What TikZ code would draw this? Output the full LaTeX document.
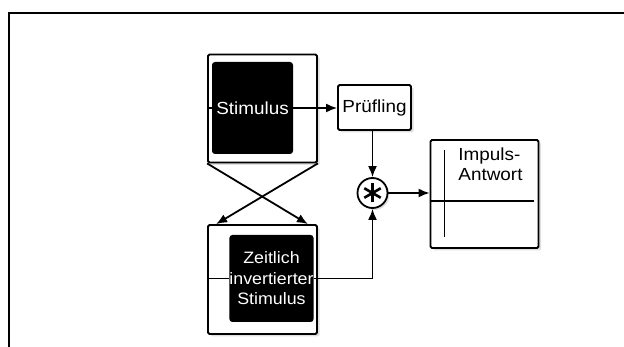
\documentclass[tikz,border=0pt]{standalone}
\usepackage{fontspec}
\setmainfont{Liberation Sans}[FakeStretch=1.08]
\usetikzlibrary{calc}
\usetikzlibrary{positioning}
\usetikzlibrary{arrows.meta}
\usetikzlibrary{shadows}
\tikzstyle{boxnode} = [draw, line width=1.8pt, rounded corners=1.5pt, fill=white, drop shadow={shadow xshift=2.5pt, shadow yshift=-2.5pt, opacity=0.25}]
\tikzstyle{signode} = [fill=black, rounded corners=3pt, text=white, align=center, inner sep=0pt]
\tikzstyle{convnode} = [draw, circle, line width=1.8pt, minimum size=30pt, inner sep=0pt, fill=white, drop shadow={shadow xshift=2pt, shadow yshift=-2pt, opacity=0.25}]
\tikzstyle{conn} = [line width=1.8pt, -{Latex[length=11pt,width=9pt]}]
\tikzstyle{wave} = [line width=1.8pt]

\begin{document}
\begin{tikzpicture}[x=1pt, y=-1pt, font=\fontsize{17.5}{19.5}\selectfont]
\useasboundingbox (0,0) rectangle (624,347);
\draw[line width=2pt] (9,347) -- (9,13) -- (624,13);

\node[boxnode, minimum width=109pt, minimum height=108pt] (stim_box) at (262.5,108.5) {};
\node[signode, minimum width=81pt, minimum height=92pt] (stim_sig) at ($(stim_box)+(-10,-0.5)$) {Stimulus};
\node[boxnode, minimum width=73pt, minimum height=45pt] (dut) at ($(stim_box)+(112,-1)$) {Prüfling};
\node[convnode] (conv) at ($(dut)+(-2,85.5)$) {};
\foreach \a in {90,30,150}
    \draw[line width=2.6pt] ($(conv)+(\a:9.5)$) -- ($(conv)+(\a+180:9.5)$);
\node[boxnode, minimum width=108pt, minimum height=108pt] (resp) at ($(conv)+(112,1)$) {};
\node[align=left] (resp_lbl) at ($(resp)+(6,-30)$) {Impuls-\\Antwort};
\draw[wave] ($(resp)+(-40,-44)$) -- ($(resp)+(-40,43)$);
\draw[wave] (resp.west |- {$(resp)+(0,7)$}) -- ($(resp)+(49,7)$);

\node[boxnode, minimum width=109pt, minimum height=109pt] (inv_box) at ($(stim_box)+(0,171)$) {};
\node[signode, minimum width=77pt, minimum height=87pt, font=\fontsize{16.5}{20.5}\selectfont] (inv_sig) at ($(inv_box)+(9,-1)$) {Zeitlich\\invertierter\\Stimulus};

\coordinate (inv_l) at ($(inv_box.north west)+(9,0)$);
\coordinate (inv_r) at ($(inv_box.north east)+(-10,0)$);

\draw[wave] (stim_box.west |- stim_sig.west) -- (stim_sig.west);
\draw[conn] (stim_sig.east) -- (stim_sig.east -| dut.west);
\draw[conn] (dut.south -| conv) -- (conv.north);
\draw[conn] (conv.east) -- (conv.east -| resp.west);
\draw[conn] (stim_box.south west) -- (inv_r);
\draw[conn] (stim_box.south east) -- (inv_l);
\draw[wave] (inv_box.west |- inv_sig.west) -- (inv_sig.west);
\draw[conn] (inv_sig.east) -| (conv.south);
\end{tikzpicture}
\end{document}
